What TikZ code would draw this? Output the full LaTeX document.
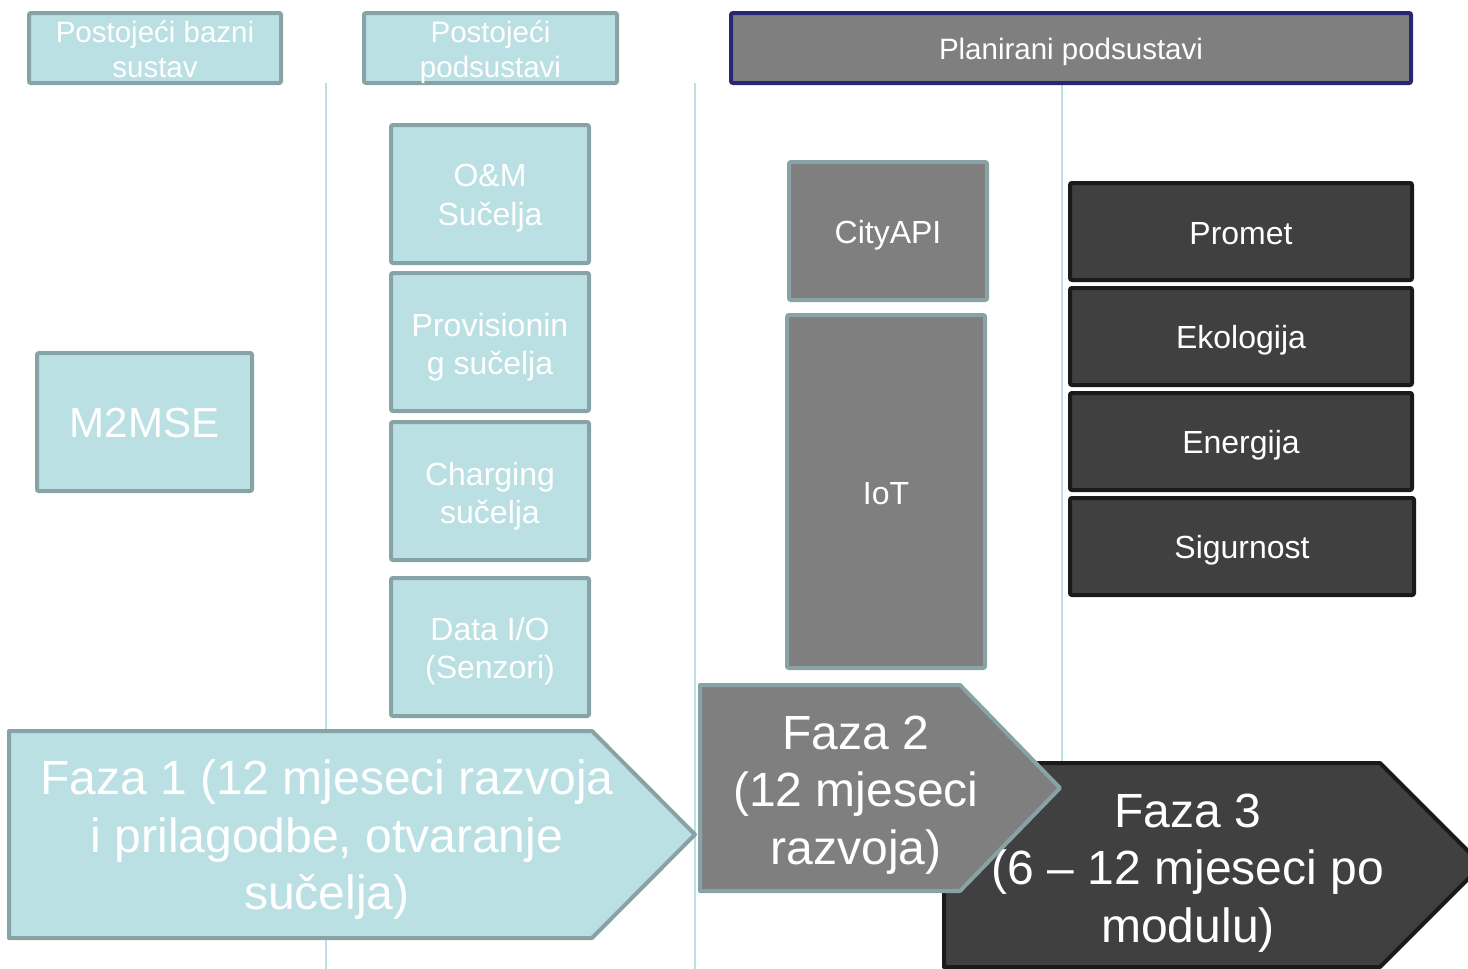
\documentclass[tikz,border=0pt]{standalone}
\usepackage{fontspec}
\setmainfont{Liberation Sans}
\definecolor{paleteal}{RGB}{187,224,227}
\definecolor{tealgray}{RGB}{135,163,165}
\definecolor{midgray}{RGB}{127,127,127}
\definecolor{darkfill}{RGB}{64,64,64}
\definecolor{darkedge}{RGB}{26,26,26}
\definecolor{navyedge}{RGB}{40,40,112}
\tikzset{
  boxbase/.style={draw, line width=4pt, rounded corners=2pt, inner sep=0pt},
  existbox/.style={boxbase, fill=paleteal, draw=tealgray},
  planhead/.style={boxbase, fill=midgray, draw=navyedge},
  grayfill/.style={boxbase, fill=midgray, draw=tealgray},
  darkbox/.style={boxbase, fill=darkfill, draw=darkedge},
  divider/.style={draw=paleteal, line width=2pt},
  wtext/.style={text=white, align=center, inner sep=0pt},
  headtext/.style={wtext, font=\fontsize{29.5}{35}\selectfont},
  boxtext/.style={wtext, font=\fontsize{32}{38.5}\selectfont},
  phasetext/.style={wtext, font=\fontsize{48}{57.5}\selectfont},
}
% text of a box, set slightly below the box centre
\newcommand{\boxlabel}[4]{\node[#2, yshift=-#3pt] (#1-t) at (#1.center) {#4};}
\begin{document}
\begin{tikzpicture}[x=1pt, y=-1pt]
\clip (0,0) rectangle (1468,969);
\fill[white] (0,0) rectangle (1468,969);

% column dividers
\coordinate (d1t) at (326,83);  \coordinate (d1b) at (326,969);
\coordinate (d2t) at (695,83);  \coordinate (d2b) at (695,969);
\coordinate (d3t) at (1062,83); \coordinate (d3b) at (1062,800);
\draw[divider] (d1t) -- (d1b);
\draw[divider] (d2t) -- (d2b);
\draw[divider] (d3t) -- (d3b);

% column headers
\node[existbox, minimum width=252, minimum height=70] (hbase) at (155,48) {};
\boxlabel{hbase}{headtext}{1}{Postojeći bazni\\sustav}
\node[existbox, minimum width=253, minimum height=70] (hsub) at (490.5,48) {};
\boxlabel{hsub}{headtext}{4}{Postojeći\\podsustavi}
\node[planhead, minimum width=680, minimum height=70] (hplan) at (1071,48) {};
\boxlabel{hplan}{headtext}{4}{Planirani podsustavi}

% existing base system
\node[existbox, minimum width=215, minimum height=138] (m2mse) at (144.5,422) {};
\boxlabel{m2mse}{wtext, font=\fontsize{42}{50}\selectfont}{1}{M2MSE}

% existing subsystems
\node[existbox, minimum width=198, minimum height=138] (om) at (490,194) {};
\boxlabel{om}{boxtext}{4}{O\&M\\Sučelja}
\node[existbox, minimum width=198, minimum height=138] (prov) at (490,342) {};
\boxlabel{prov}{boxtext}{5}{Provisionin\\g sučelja}
\node[existbox, minimum width=198, minimum height=138] (charge) at (490,491) {};
\boxlabel{charge}{boxtext}{5}{Charging\\sučelja}
\node[existbox, minimum width=198, minimum height=138] (dataio) at (490,647) {};
\boxlabel{dataio}{boxtext}{4}{Data I/O\\(Senzori)}

% planned subsystems, phase 2
\node[grayfill, minimum width=198, minimum height=138] (cityapi) at (888,231) {};
\boxlabel{cityapi}{boxtext}{4}{CityAPI}
\node[grayfill, minimum width=198, minimum height=353] (iot) at (886,491.5) {};
\boxlabel{iot}{boxtext}{2}{IoT}

% planned subsystems, phase 3
\node[darkbox, minimum width=342, minimum height=97] (promet) at (1241,231.5) {};
\boxlabel{promet}{boxtext}{2}{Promet}
\node[darkbox, minimum width=342, minimum height=97] (eko) at (1241,336.5) {};
\boxlabel{eko}{boxtext}{4}{Ekologija}
\node[darkbox, minimum width=342, minimum height=97] (energ) at (1241,441.5) {};
\boxlabel{energ}{boxtext}{4}{Energija}
\node[darkbox, minimum width=344, minimum height=97] (sigur) at (1242,546.5) {};
\boxlabel{sigur}{boxtext}{4}{Sigurnost}

% phase arrows
\draw[line width=4pt, line join=round, fill=darkfill, draw=darkedge]
  (944,763) -- (1380,763) -- (1482,865) -- (1380,967) -- (944,967) -- cycle;
\draw[line width=4pt, line join=round, fill=midgray, draw=tealgray]
  (700,685) -- (960,685) -- (1060,788) -- (960,891) -- (700,891) -- cycle;
\draw[line width=4pt, line join=round, fill=paleteal, draw=tealgray]
  (9,731) -- (592,731) -- (695,834.5) -- (592,938) -- (9,938) -- cycle;

\node[phasetext] (faza1) at (327,840)
  {Faza 1 (12 mjeseci razvoja\\i prilagodbe, otvaranje\\sučelja)};
\node[phasetext] (faza2) at (856,795)
  {Faza 2\\(12 mjeseci\\razvoja)};
\node[phasetext] (faza3) at (1188,873)
  {Faza 3\\(6 – 12 mjeseci po\\modulu)};
\end{tikzpicture}
\end{document}
